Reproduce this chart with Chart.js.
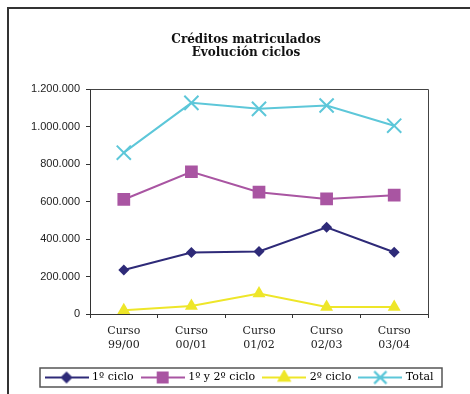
<!DOCTYPE html>
<html>
<head>
<meta charset="utf-8">
<script src="https://cdn.jsdelivr.net/npm/chart.js@4.4.0/dist/chart.umd.min.js"></script>
<style>
  html, body { margin: 0; padding: 0; background: #fff; }
  #wrap { position: relative; width: 470px; height: 394px; }
</style>
</head>
<body>
<div id="wrap"><canvas id="chart"></canvas></div>
<script>
// Data
const cursos = [['Curso', '99/00'], ['Curso', '00/01'], ['Curso', '01/02'], ['Curso', '02/03'], ['Curso', '03/04']];
const primerCiclo = [235000, 328000, 334000, 463000, 330000];
const primerSegundoCiclo = [612000, 760000, 651000, 615000, 635000];
const segundoCiclo = [20000, 43000, 109000, 38000, 38000];
const total = [862000, 1128000, 1096000, 1114000, 1006000];
const yTicks = [0, 200000, 400000, 600000, 800000, 1000000, 1200000];

const serif = "'DejaVu Serif', 'Liberation Serif', serif";
const sans = "'Liberation Sans', Arial, sans-serif";

const NAVY = '#2e2a78';
const MAGENTA = '#a955a2';
const YELLOW = '#eee629';
const CYAN = '#5dc7d9';

// Small canvas used as legend sample: line with marker in the middle
function legendSample(color, shape, r) {
    const c = document.createElement('canvas');
    c.width = 44;
    c.height = 16;
    const ctx = c.getContext('2d');
    ctx.strokeStyle = color;
    ctx.fillStyle = color;
    ctx.lineWidth = 2;
    ctx.beginPath();
    ctx.moveTo(0, 8);
    ctx.lineTo(44, 8);
    ctx.stroke();
    Chart.helpers.drawPoint(ctx, { pointStyle: shape, radius: r, borderWidth: 2, rotation: 0 }, 22, 8);
    if (shape === 'crossRot') ctx.stroke(); else ctx.fill();
    return c;
}

function fmt(v) {
    return String(v).replace(/\B(?=(\d{3})+(?!\d))/g, '.');
}

const framePlugin = {
    id: 'frame',
    afterLayout(chart) {
        // the title and legend are centred a bit right of the plot in the reference
        chart.titleBlock.left = 22;
        chart.titleBlock.right = chart.width;
        chart.titleBlock.width = chart.width - 22;
        chart.legend.left = 10;
        chart.legend.right = chart.width;
        chart.legend.width = chart.width - 10;
    },
    beforeDraw(chart) {
        const ctx = chart.ctx;
        ctx.save();
        ctx.strokeStyle = '#333';
        ctx.lineWidth = 2;
        ctx.beginPath();
        ctx.moveTo(8, chart.height);
        ctx.lineTo(8, 8);
        ctx.lineTo(chart.width, 8);
        ctx.stroke();
        ctx.restore();
    },
    afterDraw(chart) {
        const ctx = chart.ctx;
        const a = chart.chartArea;
        ctx.save();
        // top and right edges of the plot area
        ctx.strokeStyle = '#444';
        ctx.lineWidth = 1;
        ctx.beginPath();
        ctx.moveTo(Math.round(a.left) + 0.5, Math.round(a.top) + 0.5);
        ctx.lineTo(Math.round(a.right) + 0.5, Math.round(a.top) + 0.5);
        ctx.lineTo(Math.round(a.right) + 0.5, Math.round(a.bottom) + 0.5);
        ctx.stroke();
        // box round the legend
        const hb = chart.legend.legendHitBoxes;
        if (hb && hb.length) {
            const left = Math.min(...hb.map(h => h.left)) - 7;
            const right = Math.max(...hb.map(h => h.left + h.width)) + 8;
            const top = Math.min(...hb.map(h => h.top)) - 4;
            const bottom = Math.max(...hb.map(h => h.top + h.height)) + 4;
            ctx.strokeStyle = '#555';
            ctx.lineWidth = 1.5;
            ctx.strokeRect(Math.round(left), Math.round(top), Math.round(right - left), Math.round(bottom - top));
        }
        ctx.restore();
    }
};

const markers = [
    { label: '1º ciclo', data: primerCiclo, color: NAVY, shape: 'rectRot', r: 5.5 },
    { label: '1º y 2º ciclo', data: primerSegundoCiclo, color: MAGENTA, shape: 'rect', r: 9 },
    { label: '2º ciclo', data: segundoCiclo, color: YELLOW, shape: 'triangle', r: 7.5 },
    { label: 'Total', data: total, color: CYAN, shape: 'crossRot', r: 10 }
];

const samples = markers.map(m => legendSample(m.color, m.shape, m.shape === 'rect' ? 7 : m.r * 0.85));

new Chart(document.getElementById('chart'), {
    type: 'line',
    data: {
        labels: cursos,
        datasets: markers.map((m, i) => ({
            label: m.label,
            data: m.data,
            borderColor: m.color,
            backgroundColor: m.color,
            borderWidth: 2,
            pointStyle: m.shape,
            pointRadius: m.r,
            pointBorderWidth: m.shape === 'crossRot' ? 2 : 0,
            pointBorderColor: m.color,
            pointBackgroundColor: m.color,
            tension: 0,
            fill: false
        }))
    },
    options: {
        responsive: true,
        maintainAspectRatio: false,
        animation: false,
        layout: { padding: { left: 10, right: 42, top: 24, bottom: 1 } },
        plugins: {
            title: {
                display: true,
                text: ['Créditos matriculados', 'Evolución ciclos'],
                color: '#111',
                font: { family: serif, size: 12, weight: 'bold', lineHeight: 1.1 },
                padding: { top: 9, bottom: 30 }
            },
            legend: {
                position: 'bottom',
                labels: {
                    color: '#111',
                    font: { family: serif, size: 11 },
                    usePointStyle: true,
                    pointStyleWidth: 40,
                    padding: 9,
                    generateLabels: chart => markers.map((m, i) => ({
                        text: m.label,
                        pointStyle: samples[i],
                        fillStyle: m.color,
                        strokeStyle: m.color,
                        lineWidth: 0,
                        hidden: false,
                        datasetIndex: i
                    }))
                }
            },
            tooltip: { enabled: false }
        },
        scales: {
            x: {
                offset: true,
                afterFit: scale => { scale.height = 49; },
                grid: { offset: true, drawOnChartArea: false, drawTicks: true, tickLength: 4, color: '#333' },
                border: { color: '#333', width: 1 },
                ticks: {
                    color: '#222',
                    font: { family: serif, size: 11, lineHeight: 1.3 },
                    padding: 6,
                    maxRotation: 0
                }
            },
            y: {
                min: 0,
                max: 1200000,
                afterFit: scale => { scale.width = 80; },
                afterBuildTicks: scale => { scale.ticks = yTicks.map(v => ({ value: v })); },
                grid: { drawOnChartArea: false, drawTicks: true, tickLength: 4, color: '#333' },
                border: { color: '#333', width: 1 },
                ticks: {
                    color: '#222',
                    font: { family: sans, size: 11 },
                    padding: 6,
                    callback: v => fmt(v)
                }
            }
        }
    },
    plugins: [framePlugin]
});
</script>
</body>
</html>
